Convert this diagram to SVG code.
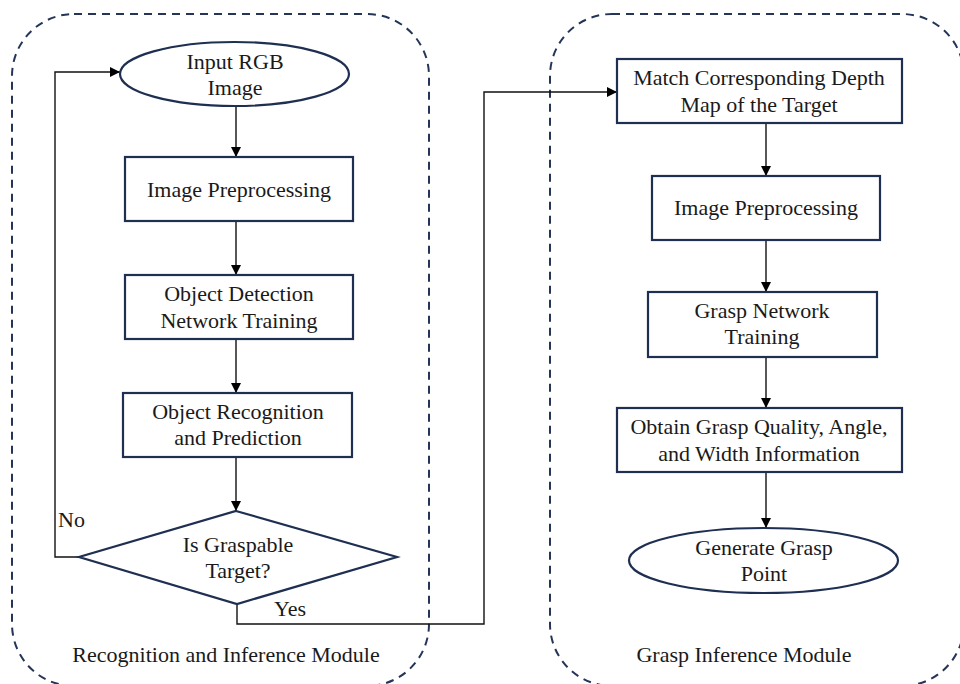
<svg xmlns="http://www.w3.org/2000/svg" width="960" height="684" viewBox="0 0 960 684">
<defs>
<marker id="ah" viewBox="0 0 10 10" refX="10" refY="5" markerWidth="10" markerHeight="10" markerUnits="userSpaceOnUse" orient="auto">
<path d="M0,0 L10,5 L0,10 z" fill="#000"/>
</marker>
<style>
.cont{fill:none;stroke:#243558;stroke-width:2;stroke-dasharray:8,6}
.box{fill:#fff;stroke:#1f2f52;stroke-width:2.2}
.t{font-size:22px;fill:#1a1a1a;text-anchor:middle}
.lbl{font-size:22px;fill:#1a1a1a}
.c{fill:none;stroke:#111;stroke-width:1.4}
</style>
</defs>
<rect width="960" height="684" fill="#fff"/>
<g font-family="Times New Roman, Liberation Serif, DejaVu Serif, serif">
<g id="containers">
<rect class="cont" x="12" y="14" width="417" height="672" rx="62" ry="62"/>
<rect class="cont" x="550" y="14" width="414" height="672" rx="62" ry="62"/>
<text class="t" x="226" y="662">Recognition and Inference Module</text>
<text class="t" x="744" y="662">Grasp Inference Module</text>
</g>
<g id="connectors">
<line class="c" x1="236" y1="106" x2="236" y2="157" marker-end="url(#ah)"/>
<line class="c" x1="236" y1="221" x2="236" y2="275" marker-end="url(#ah)"/>
<line class="c" x1="236" y1="339" x2="236" y2="393" marker-end="url(#ah)"/>
<line class="c" x1="236" y1="457" x2="236" y2="511" marker-end="url(#ah)"/>
<polyline class="c" points="79,557 55,557 55,72 120,72" marker-end="url(#ah)"/>
<polyline class="c" points="237,604 237,624 484,624 484,92 617,92" marker-end="url(#ah)"/>
<line class="c" x1="766" y1="123" x2="766" y2="176" marker-end="url(#ah)"/>
<line class="c" x1="766" y1="240" x2="766" y2="292" marker-end="url(#ah)"/>
<line class="c" x1="766" y1="357" x2="766" y2="408" marker-end="url(#ah)"/>
<line class="c" x1="766" y1="472" x2="766" y2="528" marker-end="url(#ah)"/>
<text class="lbl" x="58" y="527">No</text>
<text class="lbl" x="274" y="616">Yes</text>
</g>
<g id="input">
<ellipse class="box" cx="234.5" cy="74" rx="114.5" ry="32"/>
<text class="t" x="235" y="69">Input RGB</text>
<text class="t" x="235" y="95">Image</text>
</g>
<g id="preproc1">
<rect class="box" x="125" y="157" width="228" height="64"/>
<text class="t" x="239" y="197">Image Preprocessing</text>
</g>
<g id="detect">
<rect class="box" x="125" y="275" width="228" height="64"/>
<text class="t" x="239" y="301">Object Detection</text>
<text class="t" x="239" y="328">Network Training</text>
</g>
<g id="recog">
<rect class="box" x="123" y="393" width="229" height="64"/>
<text class="t" x="238" y="419">Object Recognition</text>
<text class="t" x="238" y="445">and Prediction</text>
</g>
<g id="decision">
<polygon class="box" points="236,511 397,557 237,604 79,557"/>
<text class="t" x="238" y="552">Is Graspable</text>
<text class="t" x="238" y="578">Target?</text>
</g>
<g id="match">
<rect class="box" x="617" y="59" width="285" height="64"/>
<text class="t" x="759" y="85">Match Corresponding Depth</text>
<text class="t" x="759" y="112">Map of the Target</text>
</g>
<g id="preproc2">
<rect class="box" x="652" y="176" width="228" height="64"/>
<text class="t" x="766" y="215">Image Preprocessing</text>
</g>
<g id="grasp">
<rect class="box" x="648" y="292" width="229" height="65"/>
<text class="t" x="762" y="318">Grasp Network</text>
<text class="t" x="762" y="344">Training</text>
</g>
<g id="obtain">
<rect class="box" x="617" y="408" width="285" height="64"/>
<text class="t" x="759" y="434">Obtain Grasp Quality, Angle,</text>
<text class="t" x="759" y="461">and Width Information</text>
</g>
<g id="generate">
<ellipse class="box" cx="763.5" cy="560.5" rx="134.5" ry="32.5"/>
<text class="t" x="764" y="555">Generate Grasp</text>
<text class="t" x="764" y="581">Point</text>
</g>
</g>
</svg>
